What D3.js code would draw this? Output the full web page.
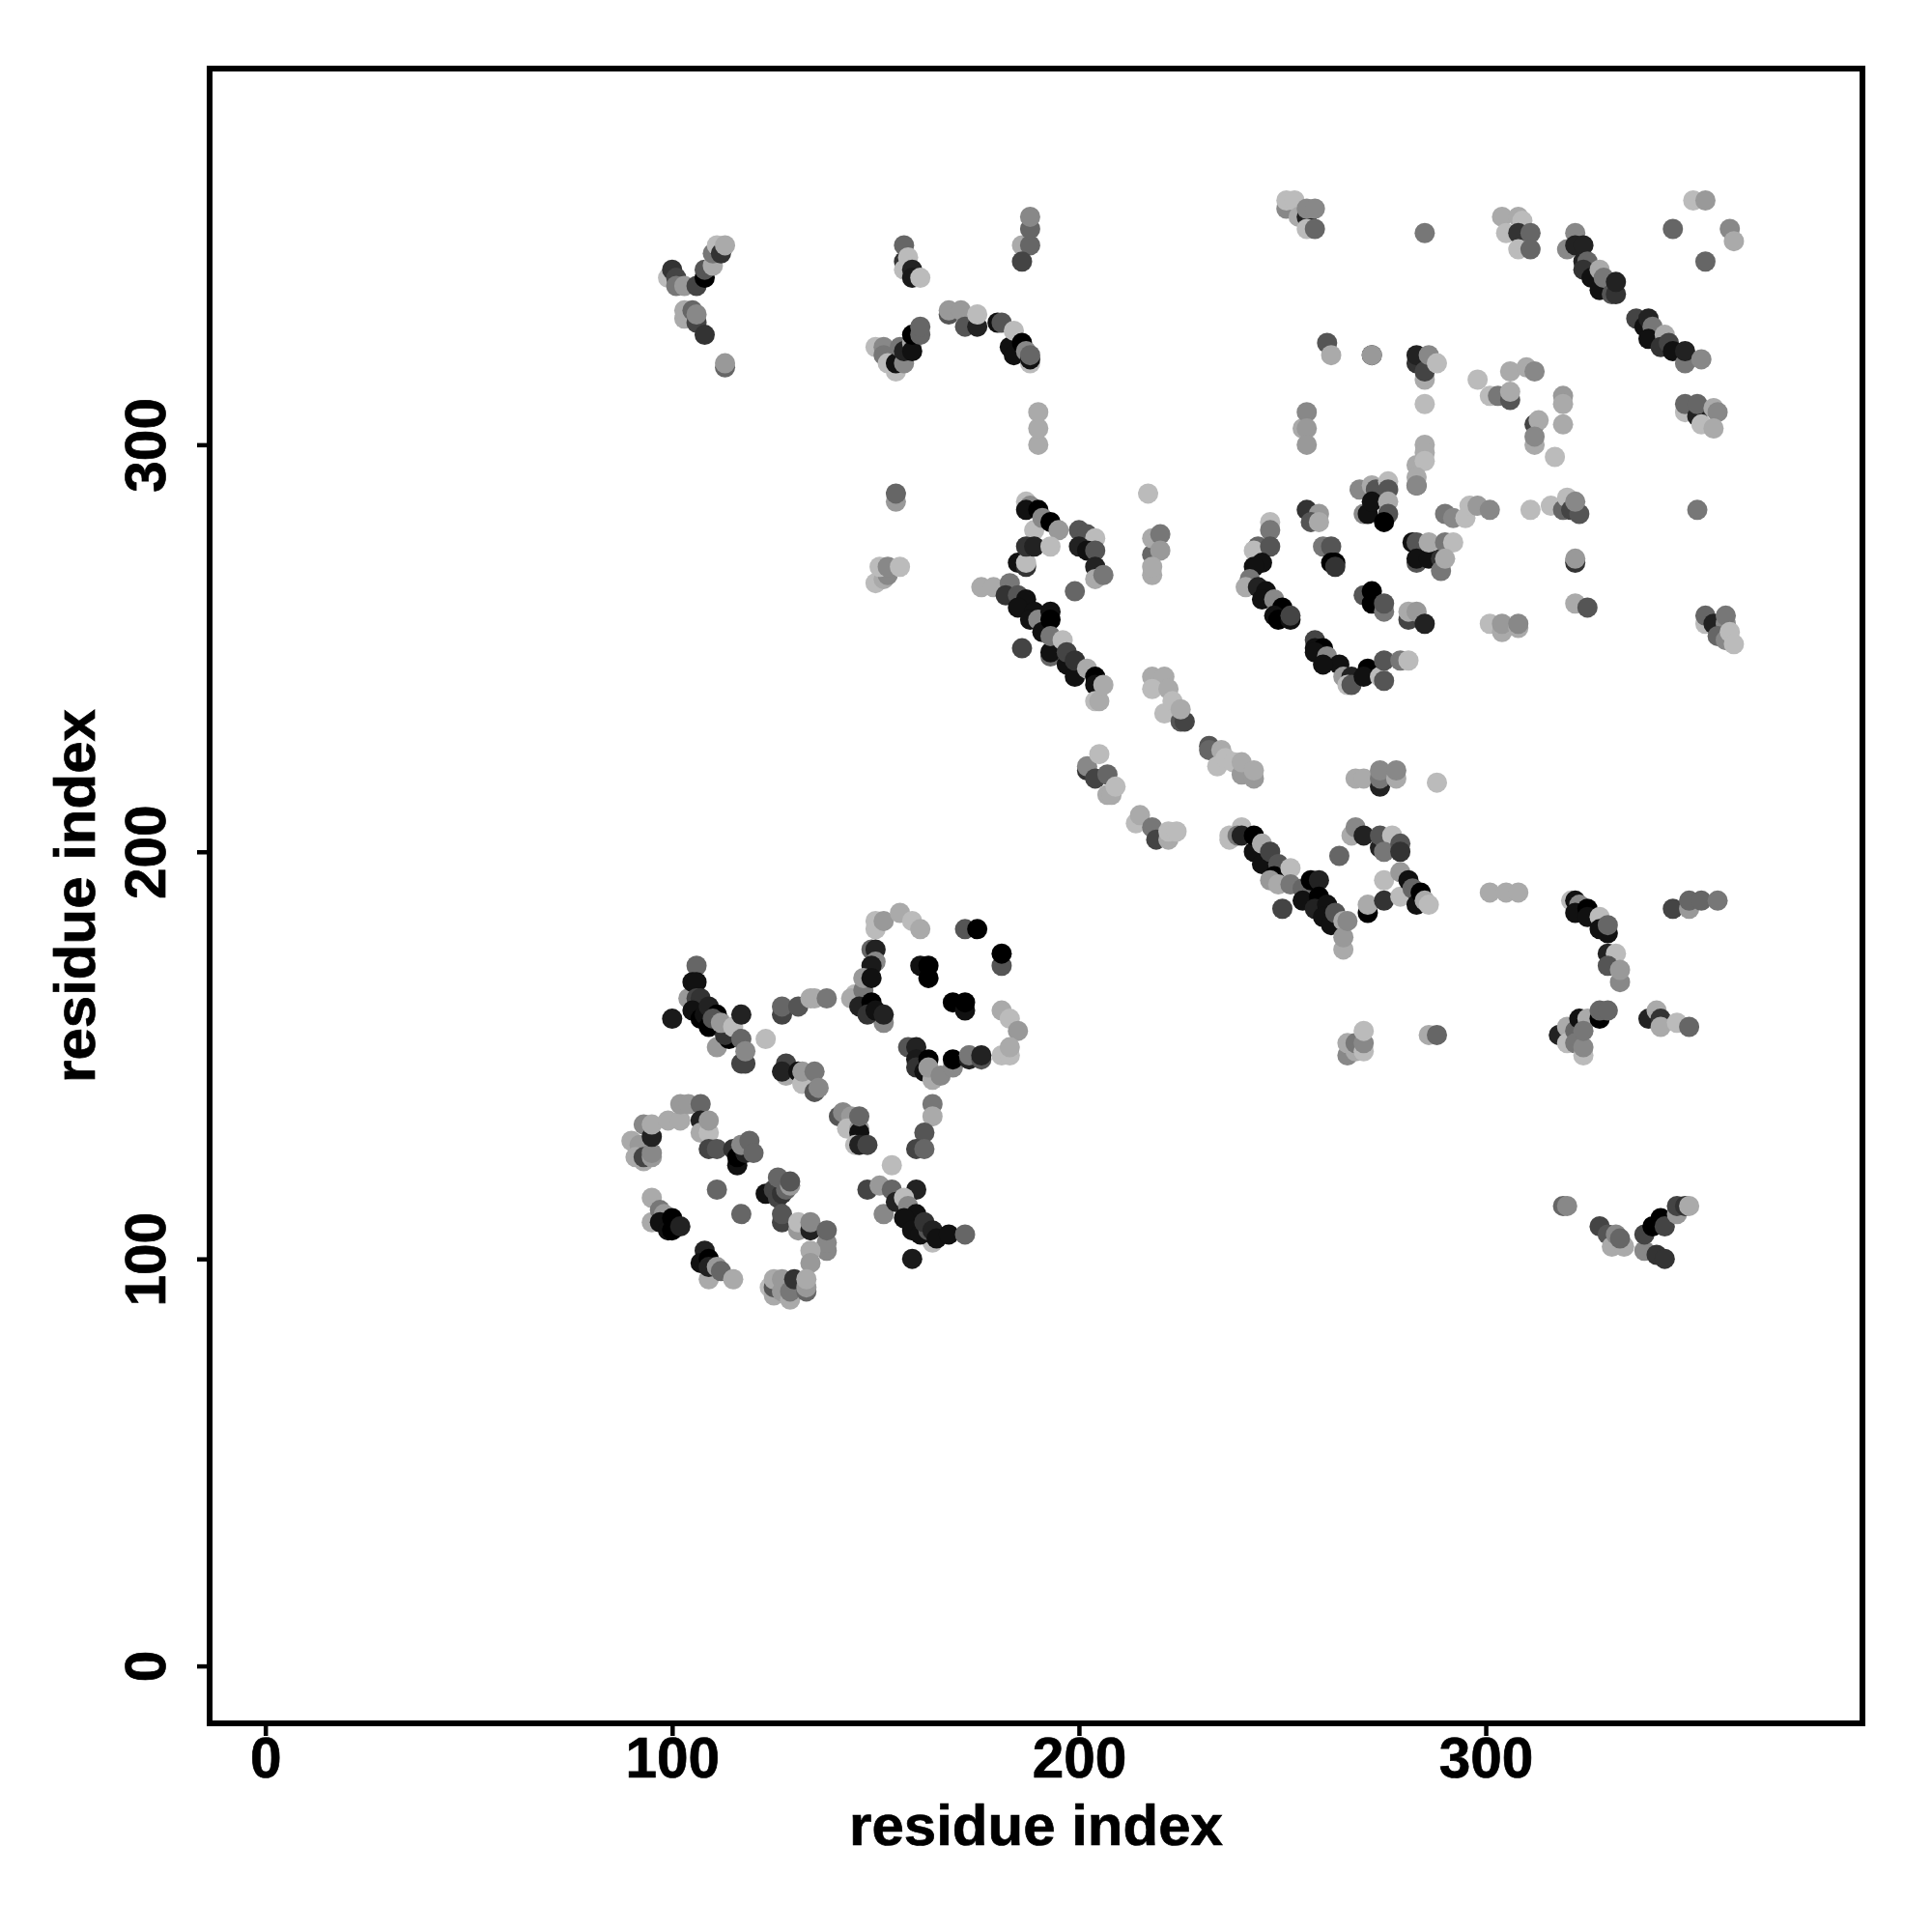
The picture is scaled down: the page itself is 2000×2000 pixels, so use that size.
<!DOCTYPE html>
<html><head><meta charset="utf-8">
<script src="https://cdn.jsdelivr.net/npm/d3@7/dist/d3.min.js"></script>
<style>html,body{margin:0;background:#fff}svg{display:block}text{font-family:"Liberation Sans",Arial,sans-serif;font-weight:700;fill:#000;stroke:#000;stroke-width:.7px}</style>
</head><body><svg id="c" width="2000" height="2000"></svg>
<script>
// each row: residue x, residue y, grey level
const tickValues=[0,100,200,300];
const axisTitle="residue index";
const lowerLeftA=[[104,164,153],[106,172,102],[105,168,17],[106,168,17],[106,164,68],[107,164,51],[105,161,17],[107,159,0],[108,160,17],[109,162,34],[100,159,26],[111,160,0],[109,157,0],[110,159,85],[111,152,153],[114,154,0],[113,155,51],[112,158,153],[115,157,187],[117,160,34],[117,148,68],[118,148,68],[117,154,102],[118,151,136]];
const lowerLeftB=[[127,160,68],[127,162,102],[131,162,85],[134,164,170],[135,164,170],[138,164,119],[123,154,187]];
const lowerLeftC=[[128,145,170],[128,148,68],[127,146,34],[131,146,17],[132,143,187],[132,146,153],[135,146,119],[135,141,85],[136,142,136]];
const lowerLeftD=[[141,135,85],[142,136,136],[144,135,153],[143,132,187],[146,132,153],[146,131,17],[145,128,187],[146,135,102],[146,128,34],[148,128,68],[154,123,187]];
const lowerLeftE=[[164,138,119],[164,135,170],[162,131,85],[160,127,68],[162,127,102]];
const lowerLeftF=[[148,117,68],[151,118,153],[154,117,102],[160,117,34],[152,111,136],[155,114,34],[157,115,187],[158,113,136],[160,111,17],[157,110,17],[164,104,187],[159,107,17],[161,106,17],[163,107,85],[162,109,51],[164,107,34],[165,105,17],[168,106,17],[172,106,102],[159,100,26]];
const arcTop=[[150,181,187],[150,183,187],[152,183,153],[156,185,170],[159,183,187],[161,181,170],[172,181,85],[175,181,0],[181,172,85],[181,175,0],[161,172,17],[163,169,0],[163,172,0],[169,163,0],[172,161,17],[172,163,0],[181,161,170],[183,159,187],[185,156,153],[181,150,187],[183,150,187],[183,152,170]];
const arcLeft=[[145,165,187],[144,164,170],[147,166,119],[146,162,34],[149,176,102],[150,176,34],[150,173,136],[149,172,26],[147,169,153],[149,169,17],[149,163,0],[152,158,136],[148,160,51],[150,161,17],[152,160,34]];
const arcBottom=[[158,152,85],[160,152,34],[160,149,26],[160,147,51],[163,149,0],[162,146,17],[164,144,170],[163,147,153],[166,145,136],[169,147,136],[169,149,0],[173,150,153],[173,149,34],[173,150,119],[176,149,85],[176,150,34]];
const lowerLeftJ=[[90,129,170],[93,133,136],[92,128,153],[91,125,170],[93,124,170],[93,125,68],[95,125,153],[95,126,136],[95,130,34],[95,133,170],[99,134,170],[102,134,170],[102,138,153],[104,138,153],[107,138,102],[107,134,34],[107,131,170],[109,131,187],[109,134,153],[109,127,68],[111,127,85]];
const lowerLeftK=[[115,127,51],[116,123,17],[116,125,0],[118,126,34],[117,128,136],[119,129,102],[120,126,102],[111,117,102],[117,111,102]];
const lowerLeftL=[[123,116,17],[125,117,68],[126,115,68],[127,116,51],[126,120,102],[128,117,102],[129,118,153],[129,119,85],[127,109,68],[127,111,85],[131,107,153],[131,109,187],[134,107,34],[134,109,136],[138,102,136],[138,104,136],[138,107,102],[134,102,170],[134,99,153]];
const lowerLeftM=[[124,93,187],[125,91,170],[125,93,85],[125,95,170],[127,92,153],[127,95,153],[129,90,170],[129,92,119],[130,95,51],[133,92,102],[133,93,153],[133,95,170]];
const lowerLeftN=[[95,115,170],[95,109,170],[97,112,119],[98,111,153],[97,109,17],[99,107,17],[100,110,0],[100,107,0],[102,108,34]];
const lowerLeftO=[[108,102,34],[107,99,17],[109,95,170],[109,100,0],[109,98,34],[111,98,153],[112,97,102],[115,95,170]];
const upperLeftP=[[99,341,187],[100,343,51],[101,341,68],[101,339,119],[103,339,153],[106,339,68],[108,341,0],[108,343,85],[110,344,170],[110,347,119],[111,349,187],[112,347,51],[113,349,170],[103,331,170],[103,333,170],[105,333,102],[106,330,68],[106,332,136],[108,327,51],[113,319,102],[113,320,153]];
const upperLeftQ=[[157,349,102],[157,345,51],[157,343,187],[158,346,187],[159,343,34],[159,341,26],[161,341,187]];
const upperLeftR=[[150,324,187],[152,324,136],[152,322,119],[153,320,187],[155,318,187],[155,320,17],[157,320,136],[156,324,119],[157,323,34],[159,325,170],[159,323,17],[159,327,0],[161,327,102],[161,329,102],[155,286,153],[155,288,102]];
const upperLeftS=[[168,332,85],[168,333,153],[171,333,153],[172,329,85],[175,329,34],[175,332,187],[180,330,17],[181,330,85],[183,324,17],[184,328,187],[184,322,17],[186,325,0],[187,323,136],[188,320,187],[188,321,17],[188,322,102]];
const upperLeftT=[[186,349,170],[188,349,102],[188,353,102],[188,356,136],[186,345,68],[190,300,170],[190,304,170],[190,308,170]];
const sideCluster=[[150,266,187],[152,267,170],[153,268,136],[151,270,187],[153,270,136],[156,270,187]];
const centerT=[[187,286,187],[188,285,136],[187,284,17],[190,284,0],[189,279,187],[191,282,136],[193,281,0],[195,279,153],[185,271,17],[187,270,51],[187,271,187],[187,275,51],[189,275,34],[193,275,187]];
const centerU=[[200,279,85],[202,278,85],[204,277,187],[200,275,34],[202,274,17],[204,274,85],[204,270,34],[204,267,170],[206,268,119],[199,264,102],[217,288,187],[218,273,102],[218,277,170],[220,278,119],[220,274,153],[218,268,170],[218,270,170]];
const diagonalV=[[176,265,170],[179,265,170],[183,266,119],[182,263,51],[185,263,85],[187,262,17],[185,260,17],[189,259,17],[188,257,17],[190,257,136],[191,254,17],[193,259,17],[193,257,0],[186,250,68],[193,248,102],[193,249,17],[193,253,119],[196,252,187],[197,246,17],[197,249,68],[199,243,17],[199,247,51],[202,245,170],[204,243,0],[204,241,17],[204,237,187],[205,237,170],[206,241,170]];
const diagonalW=[[218,243,170],[221,243,170],[218,240,187],[222,240,170],[221,234,187],[223,237,187],[225,232,85],[226,232,68],[225,235,170]];
const diagonalX=[[232,226,85],[232,225,102],[235,225,170],[234,221,187],[236,223,187],[238,222,187],[240,219,153],[240,222,170],[243,218,153],[243,220,170]];
const diagonalY=[[202,220,51],[202,221,136],[204,218,68],[205,224,187],[207,219,102],[207,214,170],[208,214,170],[209,216,187]];
const diagonalZ=[[214,207,187],[215,209,170],[218,206,119],[219,203,68],[222,203,170],[222,205,187],[224,205,187]];
const lowerDiagonal=[[237,203,187],[237,204,187],[240,206,187],[239,204,119],[240,204,34],[243,200,17],[243,204,0],[245,202,170],[245,197,17],[247,200,68],[249,197,85],[248,194,0],[247,193,153],[249,192,170],[252,196,187],[252,192,119],[250,186,68],[255,191,102],[257,193,0],[259,193,34],[255,188,17],[259,189,0],[258,186,34],[261,187,17],[260,184,17],[262,182,17],[263,185,85],[265,183,170],[265,176,170],[265,179,153],[266,183,136]];
const lowerLoop=[[264,199,102],[267,204,170],[268,206,136],[270,204,34],[274,201,34],[274,204,85],[277,204,187],[275,200,119],[279,202,85],[279,200,51],[271,185,0],[271,187,170],[275,193,187],[275,188,51],[279,189,187],[279,195,153],[281,193,17],[282,191,102],[283,187,17],[284,190,0],[285,188,170],[286,187,187]];
const midRightRow=[[268,218,170],[270,218,170],[274,216,34],[274,218,119],[274,220,136],[278,218,170],[278,220,136],[288,217,187]];
const lowerSmall=[[266,150,136],[266,153,170],[268,151,170],[268,153,119],[270,151,187],[270,153,136],[270,156,187],[286,155,170],[288,155,102]];
const rightRows=[[301,190,170],[305,190,170],[308,190,170],[346,186,68],[350,186,153],[350,188,102],[353,188,102],[357,188,119]];
const rightDiagonal=[[321,188,187],[322,188,17],[323,187,136],[322,185,17],[325,186,0],[325,184,17],[328,184,187],[328,181,17],[330,180,17],[330,182,102],[330,175,34],[332,175,187],[330,172,85],[333,168,136],[333,171,153]];
const rightLower=[[318,155,136],[318,155,34],[320,157,170],[320,153,187],[322,156,102],[322,153,119],[324,150,187],[324,152,136],[323,159,17],[325,159,170],[324,156,119],[328,159,0],[328,161,102],[330,161,102],[340,159,34],[342,161,170],[343,159,51],[343,157,170],[347,158,187],[350,157,102]];
const bottomRight=[[319,113,102],[320,113,136],[328,108,68],[330,106,85],[331,103,170],[334,103,170],[332,106,136],[333,105,102],[339,102,136],[339,106,68],[342,101,51],[344,100,51],[341,108,0],[343,110,0],[344,108,68],[347,111,153],[347,113,68],[349,113,51],[350,113,170]];
const topCluster=[[251,358,136],[251,360,187],[253,360,187],[254,356,170],[256,356,34],[256,358,136],[258,358,136],[256,353,187],[258,353,102],[285,352,119]];
const topRightA=[[304,356,170],[305,352,187],[308,356,170],[309,355,187],[308,352,51],[311,352,102],[308,348,187],[311,348,102]];
const topDiagonal=[[322,352,136],[320,348,136],[322,349,34],[324,349,34],[324,345,34],[325,345,102],[324,343,51],[326,341,17],[328,343,170],[328,338,17],[329,341,119],[331,337,85],[332,337,51],[332,340,34]];
const topDiagonal2=[[337,331,68],[339,329,17],[340,331,34],[341,329,119],[340,326,17],[344,327,170],[343,324,51],[345,325,68],[346,323,17],[349,320,119],[349,323,34],[353,321,136]];
const cornerRing=[[351,360,187],[354,360,153],[346,353,102],[360,353,136],[361,350,170],[354,345,102]];
const midUpperA=[[261,325,85],[262,322,170],[272,322,34],[272,322,153],[283,320,51],[283,322,34],[285,316,170],[285,318,68],[286,322,136],[288,320,187],[285,310,187]];
const midUpperB=[[298,316,187],[306,318,170],[310,319,170],[312,318,136],[301,312,187],[303,312,119],[306,311,85],[306,313,170],[319,312,153],[319,310,170],[319,305,170],[312,305,68],[313,306,170],[312,300,170],[312,302,136],[317,297,187]];
const midUpperC=[[255,304,170],[256,308,136],[256,304,153],[256,300,153],[349,308,187],[349,310,102],[352,307,34],[352,310,102],[353,305,187],[356,309,170],[357,308,136],[356,304,170]];
const spiralA=[[285,300,170],[285,298,170],[283,295,170],[285,296,187],[283,290,85],[283,292,170],[283,290,136]];
const spiralB=[[269,289,136],[272,290,170],[273,289,85],[276,291,187],[276,289,85],[270,283,136],[271,283,17],[272,286,17],[276,286,170],[276,283,85],[275,281,0]];
const spiralC=[[256,284,51],[259,283,153],[257,281,85],[259,281,170],[260,275,119],[262,275,85],[262,271,0],[263,271,0],[263,270,51]];
const spiralD=[[247,281,187],[247,279,119],[244,275,102],[243,274,187],[247,275,85],[245,271,17],[243,270,17],[242,267,119],[241,265,170],[244,265,34],[246,264,17],[245,262,17],[248,262,136],[250,260,0],[248,258,17],[249,257,0],[252,257,17],[252,258,68]];
const spiralE=[[258,252,68],[258,250,17],[260,250,0],[258,249,17],[261,248,136],[264,246,17],[260,246,17],[265,243,153],[267,243,34],[266,241,187],[267,241,85],[271,245,0],[270,243,17],[274,243,187],[275,242,85],[275,247,85],[279,247,119],[281,247,187]];
const midRowA=[[290,283,119],[292,282,136],[295,282,187],[296,285,187],[298,285,153],[301,284,136],[311,284,187],[316,285,187],[319,284,102],[320,287,187],[321,284,68],[323,283,85],[322,286,136],[352,284,119]];
const midRowB=[[282,276,17],[283,276,85],[283,271,85],[283,272,17],[286,272,17],[286,276,170],[289,272,51],[289,269,119],[290,276,119],[292,276,187],[290,272,170],[322,271,51],[322,272,153]];
const midRowC=[[270,263,85],[272,264,0],[272,261,0],[275,259,119],[275,261,85],[281,257,68],[281,259,170],[283,259,153],[285,256,34],[301,256,187],[304,254,170],[304,256,153],[308,255,170],[308,256,136],[322,261,170],[325,260,85]];
const farRight=[[354,256,187],[354,258,102],[356,256,34],[359,256,136],[359,258,119],[357,253,102],[359,252,136],[360,254,187],[361,251,187]];

const clusters=[lowerLeftA,lowerLeftB,lowerLeftC,lowerLeftD,lowerLeftE,lowerLeftF,arcTop,arcLeft,arcBottom,lowerLeftJ,lowerLeftK,lowerLeftL,lowerLeftM,lowerLeftN,lowerLeftO,upperLeftP,upperLeftQ,upperLeftR,upperLeftS,upperLeftT,sideCluster,centerT,centerU,diagonalV,diagonalW,diagonalX,diagonalY,diagonalZ,lowerDiagonal,lowerLoop,midRightRow,lowerSmall,rightRows,rightDiagonal,rightLower,bottomRight,topCluster,topRightA,topDiagonal,topDiagonal2,cornerRing,midUpperA,midUpperB,midUpperC,spiralA,spiralB,spiralC,spiralD,spiralE,midRowA,midRowB,midRowC,farRight];

const L=217,R=1928,T=71,B=1784;
const svg=d3.select("#c");
const x=d3.scaleLinear().domain([-13.7,392.6]).range([L,R]);
const y=d3.scaleLinear().domain([-14.1,392.4]).range([B,T]);
const grey=d3.scaleLinear().domain([0,255]).range(["#000","#fff"]);

svg.append("g").selectAll("circle").data(clusters.flat()).join("circle")
  .attr("cx",d=>x(d[0])).attr("cy",d=>y(d[1])).attr("r",10.5).attr("fill",d=>grey(d[2]));

const ax=svg.append("g").attr("transform",`translate(0,${B})`).call(d3.axisBottom(x).tickValues(tickValues).tickSize(13).tickFormat(d3.format("d")));
ax.select(".domain").remove();
ax.selectAll("line").attr("stroke","#000").attr("stroke-width",4.5);
ax.selectAll("text").attr("font-size",58.5).attr("y",0).attr("dy",0).attr("transform","translate(0,56)").attr("text-anchor","middle");

const ay=svg.append("g").attr("transform",`translate(${L},0)`).call(d3.axisLeft(y).tickValues(tickValues).tickSize(13).tickFormat(d3.format("d")));
ay.select(".domain").remove();
ay.selectAll("line").attr("stroke","#000").attr("stroke-width",4.5);
ay.selectAll("text").attr("font-size",58.5).attr("x",0).attr("dy",0).attr("text-anchor","middle").attr("transform","translate(-46,0) rotate(-90)");

svg.append("rect").attr("x",L).attr("y",T).attr("width",R-L).attr("height",B-T).attr("fill","none").attr("stroke","#000").attr("stroke-width",6);
svg.append("text").attr("x",(L+R)/2).attr("y",1910).attr("text-anchor","middle").attr("font-size",60).text(axisTitle);
svg.append("text").attr("transform",`translate(98,${(T+B)/2}) rotate(-90)`).attr("text-anchor","middle").attr("font-size",60).text(axisTitle);
</script></body></html>
